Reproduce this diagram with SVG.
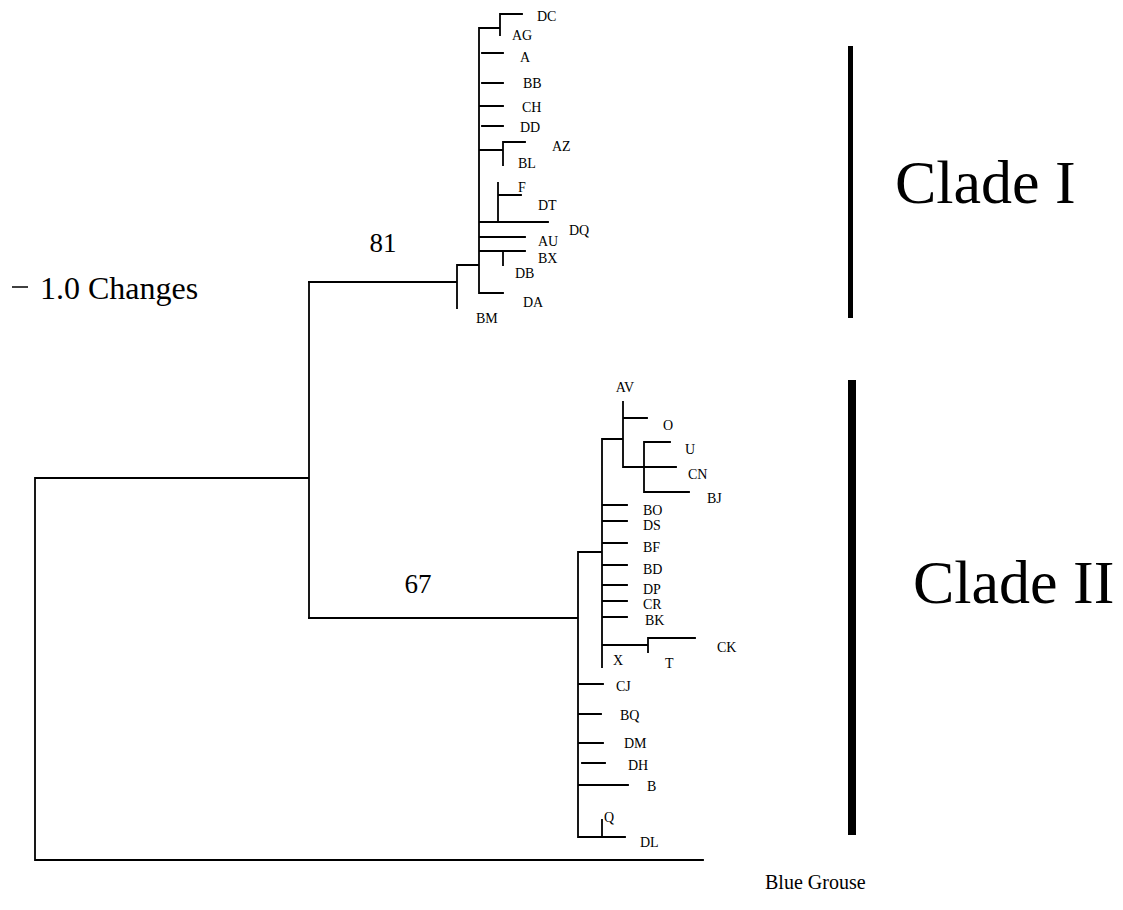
<svg xmlns="http://www.w3.org/2000/svg" width="1123" height="910" viewBox="0 0 1123 910" font-family="'Liberation Serif', 'Times New Roman', 'DejaVu Serif', serif">
<style>
.e{fill:none;stroke:#000;stroke-width:1.8;stroke-linecap:square}
text{fill:#000}
.t{font-size:14px}
.n{font-size:27px}
.c{font-size:62px}
.s{font-size:32px}
</style>
<rect width="1123" height="910" fill="#fff"/>
<g id="connectors">
<path class="e" d="M479,28 V293 M479,28 H500 M500,14 V35 M500,14 H522 M482,53 H503 M482,83 H503 M479,106 H503 M482,126 H503 M479,150 H503 M503,142 V165 M503,142 H525 M498,183 V222 M498,195 H521 M479,222 H548 M479,237 H525 M479,251 H525 M503,251 V265 M479,293 H503 M457,265 H479 M457,265 V308 M309,282 H457"/>
<path class="e" d="M309,618 H578 M578,552 V837 M578,552 H602 M602,439 V667 M602,439 H623 M623,402 V467 M623,418 H647 M623,467 H676 M644,442 V492 M644,442 H670 M644,492 H689 M602,505 H627 M602,521 H627 M602,543 H627 M602,565 H627 M602,585 H627 M602,601 H627 M602,617 H627 M602,645 H648 M648,638 V652 M648,638 H695 M579,684 H603 M579,714 H601 M579,743 H603 M582,763 H605 M579,785 H628 M579,837 H625 M602,820 V837"/>
<path class="e" d="M35,478 H309 M309,282 V618 M35,478 V860 M35,860 H703"/>
</g>
<g id="cladeI-labels" class="t">
<text x="537" y="21">DC</text><text x="512" y="40">AG</text><text x="520" y="62">A</text><text x="523" y="88">BB</text><text x="522" y="112">CH</text><text x="520" y="132">DD</text><text x="552" y="151">AZ</text><text x="518" y="168">BL</text><text x="518" y="192">F</text><text x="538" y="210">DT</text><text x="569" y="235">DQ</text><text x="538" y="246">AU</text><text x="538" y="263">BX</text><text x="515" y="278">DB</text><text x="523" y="307">DA</text><text x="476" y="323">BM</text>
</g>
<g id="cladeII-labels" class="t">
<text x="625" y="392" text-anchor="middle">AV</text><text x="663" y="430">O</text><text x="685" y="454">U</text><text x="688" y="479">CN</text><text x="707" y="503">BJ</text><text x="643" y="515">BO</text><text x="643" y="530">DS</text><text x="643" y="552">BF</text><text x="643" y="574">BD</text><text x="643" y="594">DP</text><text x="643" y="609">CR</text><text x="645" y="625">BK</text><text x="717" y="652">CK</text><text x="665" y="668">T</text><text x="613" y="665">X</text><text x="616" y="691">CJ</text><text x="620" y="720">BQ</text><text x="624" y="748">DM</text><text x="628" y="770">DH</text><text x="647" y="791">B</text><text x="604" y="822">Q</text><text x="640" y="847">DL</text>
</g>
<g id="outgroup"><text x="765" y="889" font-size="20">Blue Grouse</text></g>
<g id="support"><text class="n" x="383" y="252" text-anchor="middle">81</text><text class="n" x="418" y="593" text-anchor="middle">67</text></g>
<g id="scale"><path d="M12,287 H28" stroke="#000" stroke-width="1.5"/><text class="s" x="40" y="299">1.0 Changes</text></g>
<g id="cladeI"><rect x="848" y="46" width="5" height="272" fill="#000"/><text class="c" x="895" y="203">Clade I</text></g>
<g id="cladeII"><rect x="848" y="380" width="8" height="455" fill="#000"/><text class="c" x="913" y="603">Clade II</text></g>
</svg>
